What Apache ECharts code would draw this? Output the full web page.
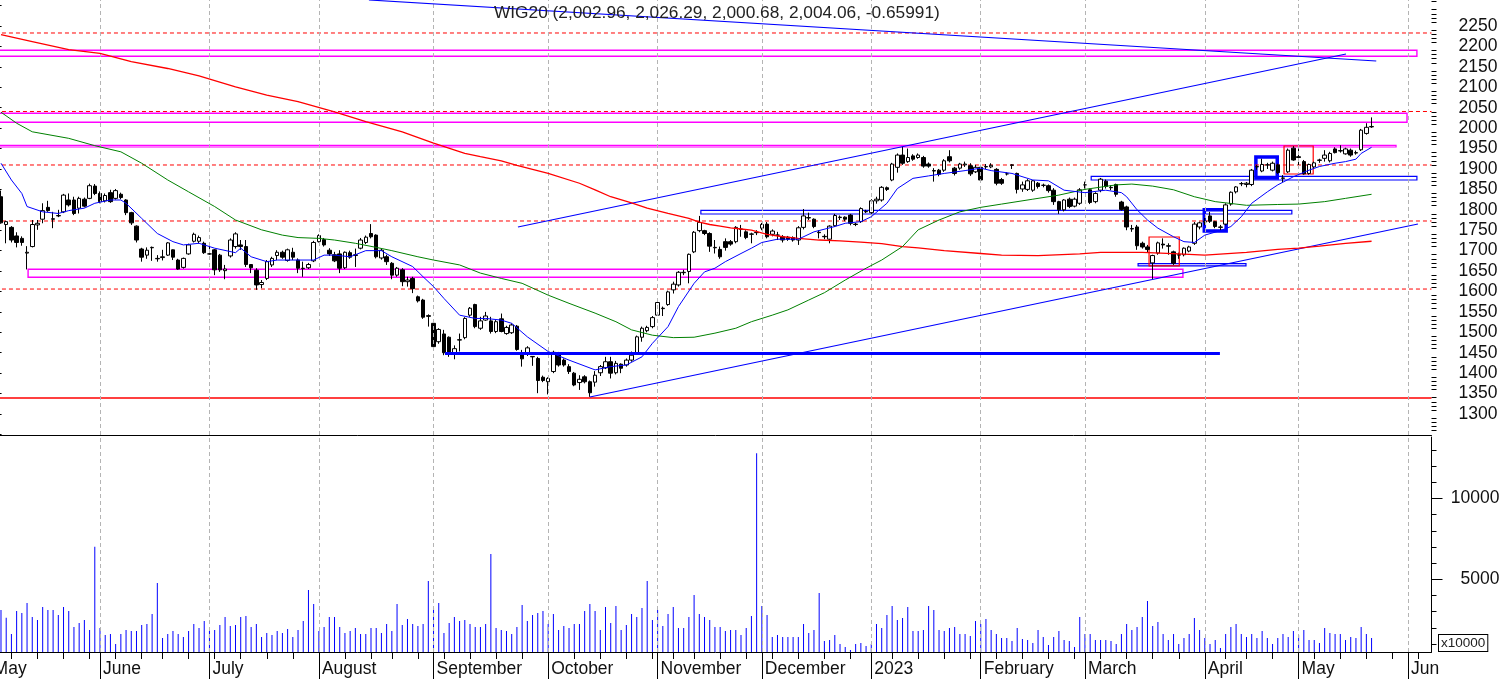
<!DOCTYPE html>
<html><head><meta charset="utf-8">
<script src="https://cdn.jsdelivr.net/npm/echarts@6/dist/echarts.min.js"></script>
<style>html,body{margin:0;padding:0;background:#fff}#c{width:1506px;height:679px}</style>
</head><body><div id="c"></div>
<script>
// ---------------- DATA ----------------
const holidays = ['2022-05-03','2022-06-16','2022-08-15','2022-11-01','2022-11-11','2022-12-26','2023-01-06','2023-04-07','2023-04-10','2023-05-01','2023-05-03'];
const firstDay = '2022-05-02', lastDay = '2023-06-07';
const monthNames = {'2022-05':'May','2022-06':'June','2022-07':'July','2022-08':'August','2022-09':'September','2022-10':'October','2022-11':'November','2022-12':'December','2023-01':'2023','2023-02':'February','2023-03':'March','2023-04':'April','2023-05':'May','2023-06':'Jun'};
const titleText = 'WIG20 (2,002.96, 2,026.29, 2,000.68, 2,004.06, -0.65991)';
const candleStart = 2; // index of first candle in trading-day list
// [open, high, low, close]
const ohlc = [
[1832,1847,1766,1768],[1764,1773,1718,1771],[1757,1760,1720,1726],[1736,1745,1708,1720],[1730,1735,1712,1720],
[1694,1711,1654,1696],[1710,1775,1708,1764],[1763,1775,1751,1767],[1777,1816,1767,1798],[1806,1822,1795,1798],
[1778,1795,1755,1777],[1785,1800,1782,1786],[1795,1839,1792,1836],[1824,1840,1808,1812],[1824,1832,1787,1791],
[1804,1832,1791,1828],[1826,1830,1806,1809],[1828,1864,1826,1859],[1858,1863,1836,1840],[1840,1845,1816,1820],
[1822,1840,1818,1835],[1842,1849,1817,1820],[1828,1851,1825,1847],[1838,1842,1826,1830],[1824,1826,1787,1793],
[1793,1795,1763,1768],[1760,1762,1720,1726],[1704,1707,1673,1684],[1689,1708,1680,1701],[1707,1710,1675,1708],
[1681,1689,1673,1680],[1683,1702,1676,1685],[1689,1721,1687,1719],[1702,1703,1677,1684],[1677,1680,1653,1655],
[1659,1683,1656,1681],[1692,1717,1690,1714],[1723,1744,1720,1740],[1723,1737,1718,1732],[1718,1722,1692,1695],
[1692,1714,1690,1692],
[1702,1704,1640,1653],[1689,1692,1648,1653],[1651,1665,1630,1655],[1687,1730,1683,1726],[1710,1745,1705,1741],[1714,1726,1702,1710],
[1710,1726,1660,1666],[1666,1667,1645,1658],[1652,1657,1604,1616],[1617,1628,1608,1622],[1632,1677,1628,1673],
[1665,1685,1660,1681],[1688,1701,1677,1696],[1696,1700,1680,1684],[1676,1705,1673,1702],[1696,1707,1677,1684],
[1677,1681,1645,1657],[1656,1673,1636,1657],[1658,1670,1655,1666],[1675,1724,1672,1720],
[1722,1740,1720,1737],[1727,1731,1710,1714],[1701,1706,1687,1692],[1690,1697,1672,1675],[1692,1701,1645,1657],
[1658,1698,1655,1696],[1695,1700,1680,1684],[1688,1705,1660,1690],[1706,1731,1703,1726],[1720,1737,1716,1733],
[1742,1765,1730,1734],[1738,1740,1681,1685],[1682,1704,1678,1701],[1685,1690,1665,1673],[1669,1672,1630,1640],
[1640,1660,1636,1657],[1653,1657,1613,1624],[1624,1636,1612,1628],[1632,1636,1596,1607],[1587,1590,1573,1577],
[1579,1582,1533,1537],[1539,1544,1514,1541],[1522,1524,1462,1465],
[1477,1510,1472,1507],[1496,1506,1444,1450],[1488,1490,1440,1452],[1448,1468,1434,1460],[1481,1497,1453,1482],
[1487,1537,1483,1534],[1542,1562,1538,1559],[1568,1570,1510,1514],[1510,1538,1506,1528],
[1530,1550,1528,1540],[1528,1538,1497,1502],[1502,1530,1498,1526],[1533,1546,1500,1502],[1497,1516,1494,1512],
[1499,1522,1496,1518],[1515,1518,1455,1458],[1446,1457,1416,1435],[1446,1466,1442,1462],[1440,1442,1418,1441],
[1436,1440,1351,1382],[1390,1394,1378,1382],[1379,1390,1348,1387],
[1404,1455,1400,1451],[1448,1452,1416,1420],[1432,1436,1416,1420],[1416,1422,1398,1404],[1400,1403,1368,1371],
[1377,1395,1359,1385],[1391,1395,1375,1379],[1379,1382,1342,1352],[1378,1405,1367,1395],[1401,1420,1393,1416],
[1413,1440,1410,1428],[1428,1440,1387,1400],[1401,1430,1397,1424],[1422,1424,1400,1412],[1420,1436,1416,1432],
[1432,1453,1428,1444],[1448,1492,1446,1489],[1488,1514,1477,1510],[1504,1516,1500,1512],[1514,1540,1510,1536],
[1542,1576,1540,1573],
[1558,1563,1540,1559],[1568,1602,1565,1599],[1604,1624,1595,1618],[1616,1650,1612,1647],[1646,1653,1640,1647],
[1649,1693,1620,1691],[1697,1748,1694,1745],[1749,1785,1745,1769],[1749,1751,1738,1742],[1742,1745,1697,1711],
[1708,1726,1693,1707],[1703,1710,1680,1685],
[1722,1730,1700,1708],[1722,1726,1712,1716],[1722,1760,1718,1757],[1752,1763,1734,1753],[1746,1750,1728,1732],
[1740,1744,1718,1741],[1745,1750,1738,1744],[1755,1768,1750,1764],
[1765,1770,1730,1734],[1740,1752,1735,1748],[1738,1746,1726,1738],[1734,1738,1720,1726],[1733,1736,1724,1728],
[1732,1735,1722,1726],[1726,1760,1714,1756],[1757,1802,1752,1785],[1780,1793,1775,1781],[1777,1779,1755,1759],
[1745,1750,1730,1744],[1735,1740,1728,1734],[1728,1762,1718,1760],[1761,1790,1758,1786],[1781,1786,1775,1782],
[1782,1784,1772,1777],[1787,1790,1762,1767],[1765,1768,1760,1764],[1771,1806,1768,1803],[1795,1800,1792,1796],
[1793,1826,1790,1822],
[1822,1832,1815,1826],[1824,1858,1820,1855],[1854,1857,1846,1850],[1873,1915,1870,1912],[1904,1938,1891,1934],
[1934,1955,1910,1914],[1918,1950,1915,1928],[1932,1936,1920,1924],[1928,1938,1925,1934],[1928,1932,1903,1907],
[1912,1916,1903,1907],[1896,1902,1869,1895],[1897,1900,1882,1887],[1897,1924,1893,1920],[1930,1946,1916,1920],
[1902,1905,1884,1889],[1902,1915,1898,1912],[1910,1918,1905,1912],[1908,1914,1883,1888],[1893,1910,1890,1904],
[1904,1910,1870,1873],
[1905,1912,1900,1906],[1905,1914,1902,1909],[1899,1902,1860,1865],[1874,1878,1861,1865],[1888,1892,1884,1888],
[1910,1912,1900,1909],[1889,1891,1840,1850],[1851,1869,1844,1861],[1850,1875,1846,1871],[1848,1873,1844,1871],
[1865,1868,1852,1857],[1860,1864,1855,1860],[1859,1862,1842,1847],[1848,1853,1812,1820],[1820,1822,1790,1800],
[1800,1826,1796,1824],[1826,1830,1804,1808],[1809,1830,1806,1826],[1816,1853,1812,1849],[1861,1869,1852,1861],
[1849,1852,1814,1818],[1820,1843,1816,1840],[1848,1878,1843,1875],[1870,1874,1852,1857],[1855,1860,1848,1854],
[1862,1864,1832,1838],[1819,1822,1798,1801],[1807,1810,1750,1758],[1754,1763,1746,1753],[1758,1763,1702,1712],
[1718,1722,1705,1709],[1709,1714,1695,1703],[1670,1690,1630,1688],[1694,1722,1690,1719],[1716,1730,1705,1714],
[1712,1718,1690,1711],[1697,1700,1665,1669],[1689,1695,1680,1690],[1690,1708,1686,1706],[1699,1712,1696,1709],
[1718,1770,1714,1765],[1758,1771,1752,1768],[1770,1780,1762,1772],
[1785,1795,1768,1772],[1771,1773,1755,1759],[1757,1763,1750,1758],[1765,1816,1762,1812],[1814,1845,1810,1843],
[1844,1858,1840,1856],[1864,1868,1858,1864],[1862,1868,1855,1865],[1862,1900,1858,1897],[1905,1910,1898,1906],
[1895,1925,1892,1911],[1910,1915,1900,1910],[1897,1918,1894,1914],[1910,1913,1888,1891],[1877,1885,1868,1878],
[1893,1950,1890,1946],[1951,1956,1920,1922],[1930,1950,1903,1928],
[1918,1922,1886,1888],[1889,1913,1886,1911],[1905,1918,1900,1915],[1921,1925,1915,1922],[1926,1946,1918,1934],
[1920,1942,1916,1938],[1949,1953,1938,1940],[1944,1958,1940,1945],[1937,1952,1935,1949],[1946,1950,1930,1934],
[1939,1945,1935,1940],[1947,1998,1944,1995],[1987,2012,1984,2002],[2002.96,2026.29,2000.68,2004.06]
];
// volume (x10000), same indices as ohlc
const volume = [
3104,2630,1622,3042,2919,3536,2672,2487,3289,3104,3104,2795,3289,3042,2054,2301,2487,1869,7014,
1993,1560,1622,1005,1622,1869,1807,1807,2178,2240,2857,4771,1375,1622,1807,1622,1437,1807,2240,1993,
2425,1807,1869,2178,2672,2116,2178,2672,2733,2054,2240,1437,1684,1560,1807,1684,1931,1437,1869,2425,
4339,3474,1807,2054,2672,2672,2054,1684,1807,1993,1622,1622,1993,1993,1684,2240,1807,3474,2178,2548,
2240,2116,2240,4894,3227,3536,1684,2301,2672,2425,2487,2240,2054,2054,2240,6561,1993,1869,1807,1622,
2054,3413,2425,2795,2919,3042,2240,2857,1869,2116,1993,2240,2240,3042,3474,3042,1869,3289,2301,3351,
1869,2178,2857,2672,3227,4894,2487,3104,2116,2857,3289,1993,1993,2672,4030,2857,2672,2487,
2054,2054,1807,1869,1869,1560,1993,2733,12800,3351,2795,1437,1560,1437,1437,1437,1437,2240,1684,1869,4153,1190,
1252,1560,1005,819,634,1005,1067,881,1000,2240,1993,2795,3351,2487,2610,3289,1807,1807,1869,3351,
3104,1869,1807,1993,2054,1622,1622,1498,2425,2240,2548,1869,1622,1375,1375,1190,1993,1313,1252,1067,
1869,1437,943,1437,1807,1252,1190,819,2672,1622,1622,1252,1252,1252,1190,1005,1622,2240,1869,2054,
2672,3660,2116,2363,1622,1252,1622,1005,1375,1622,2610,1869,1375,1005,1252,758,1622,2054,2240,1622,
1437,1622,1375,1807,1375,1005,1375,1622,1437,1807,1560,1869,1252,1252,1067,1993,1684,1622,1622,1252,1437,1375,2054,1622,1375
];
// moving averages: [trading-day index, value]
const maFast = [[2,1914],[4,1873],[6,1840],[7,1808],[10,1795],[13,1791],[15,1798],[18,1804],[20,1816],[23,1824],[25,1824],[26,1816],[29,1779],[32,1742],[35,1722],[37,1714],[40,1718],[43,1706],[47,1695],[48,1706],[50,1685],[53,1673],[55,1677],[59,1677],[62,1677],[64,1689],[66,1689],[69,1685],[72,1700],[75,1700],[77,1685],[81,1661],[83,1636],[85,1612],[87,1583],[90,1542],[93,1534],[95,1534],[98,1530],[100,1522],[103,1489],[107,1453],[111,1432],[116,1408],[119,1416],[122,1420],[125,1440],[127,1473],[130,1514],[132,1563],[135,1620],[137,1648],[139,1657],[141,1673],[144,1693],[146,1706],[148,1720],[151,1728],[155,1728],[158,1746],[162,1759],[164,1767],[167,1771],[169,1783],[172,1816],[174,1852],[177,1877],[180,1883],[183,1889],[187,1896],[190,1902],[192,1896],[196,1889],[200,1873],[203,1871],[206,1848],[210,1842],[214,1848],[217,1842],[218,1832],[220,1800],[222,1775],[224,1755],[227,1734],[229,1722],[231,1720],[233,1738],[236,1749],[238,1759],[240,1783],[242,1816],[245,1844],[247,1861],[250,1881],[253,1897],[255,1906],[258,1914],[260,1918],[262,1924],[263,1938],[265,1953]];
const maMid = [[2,2039],[5,2012],[8,1991],[15,1975],[20,1957],[25,1942],[29,1914],[34,1873],[38,1844],[43,1808],[47,1775],[52,1751],[56,1738],[59,1732],[63,1730],[66,1726],[70,1718],[74,1708],[77,1700],[82,1685],[85,1677],[90,1665],[94,1645],[98,1632],[102,1620],[107,1591],[111,1571],[116,1547],[120,1526],[123,1506],[127,1493],[131,1487],[135,1488],[139,1498],[143,1510],[146,1526],[150,1542],[153,1555],[157,1579],[160,1597],[164,1628],[168,1657],[171,1677],[175,1710],[178,1751],[182,1775],[186,1795],[190,1806],[194,1814],[200,1826],[205,1836],[210,1850],[216,1861],[219,1863],[223,1858],[227,1849],[231,1832],[235,1820],[239,1814],[241,1811],[247,1813],[251,1814],[256,1820],[260,1828],[265,1838]];
const maSlow = [[2,2229],[8,2212],[15,2192],[21,2183],[27,2163],[34,2146],[40,2128],[47,2101],[53,2081],[59,2065],[66,2040],[72,2016],[79,1991],[85,1963],[91,1938],[94,1930],[98,1920],[101,1909],[107,1889],[113,1865],[116,1849],[119,1832],[123,1817],[126,1804],[130,1791],[134,1779],[136,1770],[138,1764],[140,1760],[142,1756],[144,1753],[146,1750],[149,1740],[152,1734],[155,1730],[159,1726],[163,1724],[167,1721],[171,1717],[175,1710],[178,1707],[183,1700],[190,1693],[194,1689],[201,1688],[209,1692],[213,1696],[221,1696],[228,1692],[233,1689],[241,1696],[247,1703],[251,1706],[255,1711],[260,1718],[265,1723]];
// axis ticks / labels
const priceLabels = [1300,1350,1400,1450,1500,1550,1600,1650,1700,1750,1800,1850,1900,1950,2000,2050,2100,2150,2200,2250];
const priceMajorTicks = [1250,1300,1350,1400,1450,1500,1550,1600,1650,1700,1750,1800,1850,1900,1950,2000,2050,2100,2150,2200,2250,2300];
const volumeLabels = [5000,10000];
const volumeMinorTicks = [1000,2000,3000,4000,6000,7000,8000,9000,11000,12000,13000];
// drawn annotations (trading-day index, price)
const dashedLevels = [2232.9,2040.7,1909.7,1772.6,1606];
const supportLevel = 1339;
const trendLines = [
  {from:[72.6,2313.7], to:[265.9,2164.3], color:'#0000ff', width:1.2},
  {from:[101.2,1757.9], to:[260.1,2181.5], color:'#0000ff', width:1.2},
  {from:[115.0,1341.6], to:[273.9,1765.2], color:'#0000ff', width:1.2},
  {from:[87.2,1448.6], to:[235.9,1448.6], color:'#0000ff', width:3}
];
const boxes = [
  {x1:-5, x2:273.7, lo:2175.9, hi:2190.5, color:'#ff00ff', width:1.4},
  {x1:-5, x2:271.8, lo:2014.2, hi:2036.3, color:'#ff00ff', width:1.4},
  {x1:-5, x2:269.7, lo:1953.8, hi:1957.9, color:'#ff00ff', width:1.2},
  {x1:7.2, x2:228.8, lo:1634.7, hi:1654.3, color:'#ff00ff', width:1.4},
  {x1:136.3, x2:249.7, lo:1789.7, hi:1798.7, color:'#0000ff', width:1.2},
  {x1:211.2, x2:273.7, lo:1873, hi:1882, color:'#0000ff', width:1.2},
  {x1:220.2, x2:240.9, lo:1662.5, hi:1668, color:'#0000ff', width:1.2},
  {x1:232.9, x2:237.1, lo:1748, hi:1800, color:'#0000ff', width:3.5},
  {x1:242.8, x2:246.9, lo:1878, hi:1929.3, color:'#0000ff', width:3.5},
  {x1:222.3, x2:228.1, lo:1662.5, hi:1733.4, color:'#ff0000', width:1.2},
  {x1:248.2, x2:253.8, lo:1887.6, hi:1956.2, color:'#ff0000', width:1.2}
];

// ---------------- BUILD ----------------
function buildDays(a, b) {
  const out = [];
  const d = new Date(a + 'T00:00:00Z'), e = new Date(b + 'T00:00:00Z');
  while (d <= e) {
    const wd = d.getUTCDay(), s = d.toISOString().slice(0, 10);
    if (wd !== 0 && wd !== 6 && holidays.indexOf(s) < 0) out.push(s);
    d.setUTCDate(d.getUTCDate() + 1);
  }
  return out;
}
const dates = buildDays(firstDay, lastDay);
const N = dates.length;
const weekNo = s => Math.floor((Date.parse(s) / 86400000 + 3) / 7);
const monthSet = new Set(), weekSet = new Set(), monthIdx = [];
dates.forEach((d, i) => {
  if (i === 0 || d.slice(0, 7) !== dates[i - 1].slice(0, 7)) { monthSet.add(i); monthIdx.push(i); }
  if (i === 0 || weekNo(d) !== weekNo(dates[i - 1])) weekSet.add(i);
});
const candleData = dates.map((d, i) => {
  const r = ohlc[i - candleStart];
  return r ? [r[0], r[3], r[2], r[1]] : ['-', '-', '-', '-'];
});
const volData = dates.map((d, i) => { const v = volume[i - candleStart]; return v === undefined ? '-' : v; });
const priceMinorTicks = [];
for (let v = 1250; v <= 2310; v += 10) if (v % 50 !== 0) priceMinorTicks.push(v);

const FONT = 'Liberation Sans, Arial, sans-serif';
const gridLeft = -12.04, gridRight = 74.5;
const pMin = 1248.6, pMax = 2313.7, vMin = 510, vMax = 13800;
const gridLine = {color: '#b4b4b4', type: [4, 3], width: 1};
const plain = v => String(Math.round(v));

// horizontal levels as plain line series across the whole value-x range
const levelSeries = dashedLevels.map(v => ({
  type: 'line', xAxisIndex: 3, yAxisIndex: 0, z: 2, silent: true, symbol: 'none',
  data: [[-0.5, v], [N - 0.5, v]],
  lineStyle: {color: '#ff0000', width: 1, type: [4, 3]}, itemStyle: {color: '#ff0000'}
})).concat([{
  type: 'line', xAxisIndex: 3, yAxisIndex: 0, z: 2, silent: true, symbol: 'none',
  data: [[-0.5, supportLevel], [N - 0.5, supportLevel]],
  lineStyle: {color: '#ff0000', width: 1.5, type: 'solid'}, itemStyle: {color: '#ff0000'}
}]);

const option = {
  animation: false,
  backgroundColor: '#fff',
  title: {text: titleText, left: 494, top: 5, padding: 0,
    textStyle: {fontSize: 17.3, fontWeight: 'normal', color: '#222', fontFamily: FONT}},
  grid: [
    {left: gridLeft, right: gridRight, top: 0, height: 435, containLabel: false, outerBoundsMode: 'none'},
    {left: gridLeft, right: gridRight, top: 437, height: 215, containLabel: false, outerBoundsMode: 'none'}
  ],
  xAxis: [
    {type: 'category', gridIndex: 0, data: dates, boundaryGap: true, position: 'bottom',
      axisLine: {show: true, lineStyle: {color: '#000', width: 1}}, axisTick: {show: false},
      axisLabel: {show: false}, splitLine: {show: false}},
    {type: 'category', gridIndex: 1, data: dates, boundaryGap: true, position: 'bottom',
      axisLine: {show: true, lineStyle: {color: '#000', width: 1}},
      axisTick: {show: true, alignWithLabel: true, length: 27, interval: (i) => monthSet.has(i), lineStyle: {color: '#000', width: 1}},
      axisLabel: {show: true, interval: (i) => monthSet.has(i), formatter: (v) => monthNames[v.slice(0, 7)] || '',
        align: 'left', padding: [0, 0, 0, 3], margin: 8, fontSize: 17.5, color: '#111', fontFamily: FONT},
      splitLine: {show: false}},
    {type: 'category', gridIndex: 1, data: dates, boundaryGap: true, position: 'bottom',
      axisLine: {show: false},
      axisTick: {show: true, alignWithLabel: true, length: 7, interval: (i) => weekSet.has(i), lineStyle: {color: '#000', width: 1}},
      axisLabel: {show: false}, splitLine: {show: false}},
    {type: 'value', gridIndex: 0, min: -0.5, max: N - 0.5, show: false, position: 'bottom', splitLine: {show: false}}
  ],
  yAxis: [
    {type: 'value', gridIndex: 0, position: 'right', min: pMin, max: pMax, splitLine: {show: false},
      axisLine: {show: true, lineStyle: {color: '#000', width: 1}},
      axisTick: {show: true, length: 11, customValues: priceMajorTicks, lineStyle: {color: '#000'}},
      axisLabel: {show: true, customValues: priceLabels, formatter: plain, align: 'right', margin: 66, fontSize: 17.5, color: '#111', fontFamily: FONT}},
    {type: 'value', gridIndex: 0, position: 'right', min: pMin, max: pMax, splitLine: {show: false},
      axisLine: {show: false},
      axisTick: {show: true, length: 5, customValues: priceMinorTicks, lineStyle: {color: '#000'}},
      axisLabel: {show: false}},
    {type: 'value', gridIndex: 1, position: 'right', min: vMin, max: vMax, splitLine: {show: false},
      axisLine: {show: true, lineStyle: {color: '#000', width: 1}},
      axisTick: {show: true, length: 11, customValues: volumeLabels, lineStyle: {color: '#000'}},
      axisLabel: {show: true, customValues: volumeLabels, formatter: plain, align: 'right', margin: 68, fontSize: 17.5, color: '#111', fontFamily: FONT}},
    {type: 'value', gridIndex: 1, position: 'right', min: vMin, max: vMax, splitLine: {show: false},
      axisLine: {show: false},
      axisTick: {show: true, length: 5, customValues: volumeMinorTicks, lineStyle: {color: '#000'}},
      axisLabel: {show: false}}
  ],
  series: [
    {type: 'line', name: 'monthGridPrice', xAxisIndex: 0, yAxisIndex: 0, data: [], z: 1, silent: true,
      markLine: {silent: true, symbol: ['none', 'none'], label: {show: false}, lineStyle: gridLine,
        data: monthIdx.map(i => ({xAxis: i}))}},
    {type: 'line', name: 'monthGridVol', xAxisIndex: 1, yAxisIndex: 2, data: [], z: 1, silent: true,
      markLine: {silent: true, symbol: ['none', 'none'], label: {show: false}, lineStyle: gridLine,
        data: monthIdx.map(i => ({xAxis: i}))}},
    ...levelSeries,
    {type: 'candlestick', name: 'WIG20', xAxisIndex: 0, yAxisIndex: 0, data: candleData, z: 4,
      barWidth: 4, clip: true, silent: true,
      itemStyle: {color: '#ffffff', color0: '#000000', borderColor: '#000000', borderColor0: '#000000', borderWidth: 1}},
    {type: 'line', name: 'annotations', xAxisIndex: 3, yAxisIndex: 0, data: [], z: 5, silent: true,
      markLine: {silent: true, symbol: ['none', 'none'], label: {show: false},
        data: trendLines.map(t => [{coord: t.from, lineStyle: {color: t.color, width: t.width, type: 'solid'}}, {coord: t.to}])},
      markArea: {silent: true, label: {show: false},
        data: boxes.map(b => [{coord: [b.x1, b.hi], itemStyle: {color: 'rgba(0,0,0,0)', borderColor: b.color, borderWidth: b.width}}, {coord: [b.x2, b.lo]}])}},
    {type: 'line', name: 'MA slow', xAxisIndex: 0, yAxisIndex: 0, data: maSlow, z: 6, symbol: 'none', silent: true,
      lineStyle: {color: '#ff0000', width: 1.3}},
    {type: 'line', name: 'MA mid', xAxisIndex: 0, yAxisIndex: 0, data: maMid, z: 6, symbol: 'none', silent: true,
      lineStyle: {color: '#008000', width: 1}},
    {type: 'line', name: 'MA fast', xAxisIndex: 0, yAxisIndex: 0, data: maFast, z: 6, symbol: 'none', silent: true,
      lineStyle: {color: '#0000ff', width: 1}},
    {type: 'bar', name: 'Volume', xAxisIndex: 1, yAxisIndex: 2, data: volData, barWidth: 1, clip: true, z: 3, silent: true,
      itemStyle: {color: '#0000ff'}}
  ],
  graphic: [
    {type: 'text', left: 1438, top: 634, z: 100,
      style: {text: 'x10000', fontSize: 13.5, fill: '#222', fontFamily: FONT, backgroundColor: '#fff',
        borderColor: '#000', borderWidth: 1, padding: [1, 2, 1, 2]}}
  ]
};
const chart = echarts.init(document.getElementById('c'), null, {renderer: 'canvas'});
chart.setOption(option);
</script></body></html>
